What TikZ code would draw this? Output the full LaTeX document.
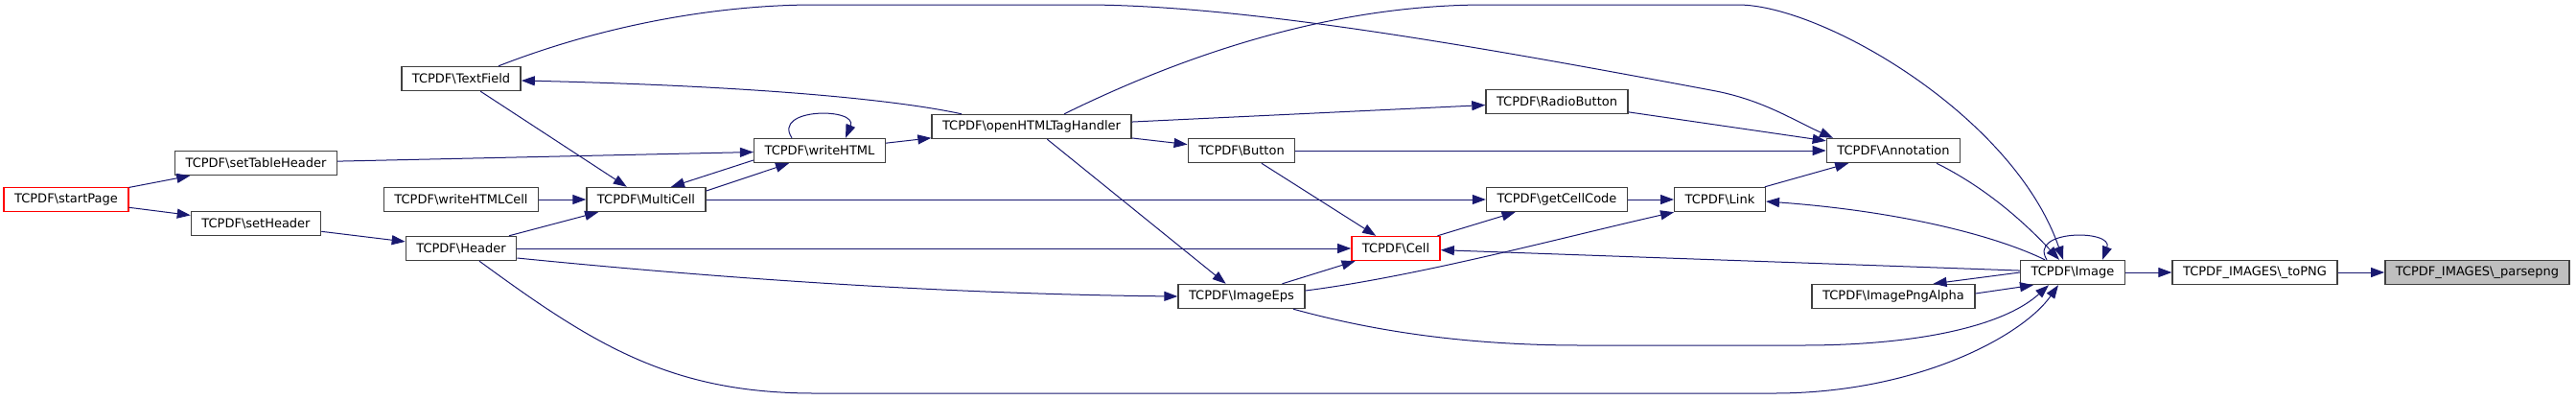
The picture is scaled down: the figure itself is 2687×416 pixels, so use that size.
\documentclass[tikz,border=0pt]{standalone}
\usepackage{fontspec}
\setmainfont{DejaVu Sans}
\usepackage{xcolor}
\usepackage{tikz}
\usetikzlibrary{arrows.meta}
\definecolor{doxyBlue}{RGB}{25,25,112}
\definecolor{doxyGray}{RGB}{64,64,64}
\definecolor{doxyFill}{RGB}{191,191,191}
\newcommand{\bs}{\textbackslash}

\begin{document}
\begin{tikzpicture}[x=1pt, y=-1pt,
funcblock/.style={rectangle, draw=doxyGray, fill=white, line width=1.4pt,
minimum height=25pt, inner xsep=11pt, inner ysep=2pt,
font=\fontsize{13pt}{15pt}\selectfont},
cutblock/.style={funcblock, draw=red},
selblock/.style={funcblock, fill=doxyFill},
arrow/.style={-{Triangle[length=14pt,width=10pt]}, line width=1pt, color=doxyBlue}]

\useasboundingbox (0,0) rectangle (2687,416);

\node[cutblock] (startPage)      at (69,208)   {TCPDF\bs startPage};
\node[funcblock] (setTableHeader) at (267,170)  {TCPDF\bs setTableHeader};
\node[funcblock] (setHeader)      at (267,233)  {TCPDF\bs setHeader};
\node[funcblock] (TextField)      at (481,82)   {TCPDF\bs TextField};
\node[funcblock] (writeHTMLCell)  at (481,208)  {TCPDF\bs writeHTMLCell};
\node[funcblock] (Header)         at (481,259)  {TCPDF\bs Header};
\node[funcblock] (MultiCell)      at (674,208)  {TCPDF\bs MultiCell};
\node[funcblock] (writeHTML)      at (855,157)  {TCPDF\bs writeHTML};
\node[funcblock] (openHTMLTagHandler) at (1076,132) {TCPDF\bs openHTMLTagHandler};
\node[funcblock] (Button)         at (1295,157) {TCPDF\bs Button};
\node[funcblock] (ImageEps)       at (1295,309) {TCPDF\bs ImageEps};
\node[funcblock] (RadioButton)    at (1624,106) {TCPDF\bs RadioButton};
\node[funcblock] (getCellCode)    at (1624,208) {TCPDF\bs getCellCode};
\node[cutblock] (Cell)            at (1456,259) {TCPDF\bs Cell};
\node[funcblock] (Link)           at (1794,208) {TCPDF\bs Link};
\node[funcblock] (Annotation)     at (1975,157) {TCPDF\bs Annotation};
\node[funcblock] (ImagePngAlpha)  at (1975,309) {TCPDF\bs ImagePngAlpha};
\node[funcblock] (Image)          at (2162,284) {TCPDF\bs Image};
\node[funcblock] (toPNG)          at (2352,284) {TCPDF\_IMAGES\bs\_toPNG};
\node[selblock] (parsepng)        at (2584,284) {TCPDF\_IMAGES\bs\_parsepng};

\draw[arrow] (startPage) -- (setTableHeader);
\draw[arrow] (startPage) -- (setHeader);
\draw[arrow] (setHeader) -- (Header);
\draw[arrow] (setTableHeader) -- (writeHTML);
\draw[arrow] (TextField) -- (MultiCell);
\draw[arrow] (writeHTMLCell) -- (MultiCell);
\draw[arrow] (Header) -- (MultiCell);
\draw[arrow] (Header) -- (Cell);
\draw[arrow] ([yshift=-10pt]Header.east) .. controls (700,285) and (950,306) .. (ImageEps.west);
\draw[arrow] ([xshift=19pt]Header.south) .. controls (620,360) and (700,410) .. (850,410)
    -- (1850,410) .. controls (2000,410) and (2110,350) .. ([xshift=-15pt]Image.south);
\draw[arrow] ([xshift=39pt]TextField.north) .. controls (640,22) and (760,5) .. (850,5)
    -- (1130,5) .. controls (1300,5) and (1550,50) .. (1790,95)
    .. controls (1840,105) and (1870,125) .. ([xshift=-63pt]Annotation.north);
\draw[arrow] ([xshift=-73pt]openHTMLTagHandler.north) .. controls (940,105) and (800,90) .. ([yshift=-2pt]TextField.east);
\draw[arrow] ([yshift=-10pt]writeHTML.west) -- ([xshift=26pt]MultiCell.north);
\draw[arrow] ([yshift=9pt]MultiCell.east) -- ([xshift=-32pt]writeHTML.south);
\draw[arrow] ([xshift=-29pt]writeHTML.north) .. controls (805,112) and (895,112) .. ([xshift=27pt]writeHTML.north);
\draw[arrow] (writeHTML) -- (openHTMLTagHandler);
\draw[arrow] (openHTMLTagHandler) -- (RadioButton);
\draw[arrow] (openHTMLTagHandler) -- (Button);
\draw[arrow] (openHTMLTagHandler) -- (ImageEps);
\draw[arrow] ([xshift=34pt]openHTMLTagHandler.north) .. controls (1250,50) and (1400,5) .. (1550,5)
    -- (1813,5) .. controls (1900,5) and (2100,120) .. ([xshift=-10pt]Image.north);
\draw[arrow] (Button) -- (Annotation);
\draw[arrow] (Button) -- (Cell);
\draw[arrow] (RadioButton) -- (Annotation);
\draw[arrow] (MultiCell) -- (getCellCode);
\draw[arrow] (Cell) -- (getCellCode);
\draw[arrow] (getCellCode) -- (Link);
\draw[arrow] (Link) -- (Annotation);
\draw[arrow] (ImageEps) -- (Cell);
\draw[arrow] ([yshift=6pt]ImageEps.east) .. controls (1480,288) and (1640,245) .. (Link.south west);
\draw[arrow] ([xshift=54pt]ImageEps.south) .. controls (1450,350) and (1550,360) .. (1650,360)
    -- (1880,360) .. controls (2000,360) and (2090,340) .. ([xshift=-25pt]Image.south);
\draw[arrow] ([xshift=45pt]Annotation.south) .. controls (2070,195) and (2110,230) .. ([xshift=-14pt]Image.north);
\draw[arrow] ([xshift=-29pt]Image.north) .. controls (2080,245) and (1980,220) .. ([yshift=-2pt]Link.east);
\draw[arrow] ([xshift=-27pt]Image.north) .. controls (2115,239) and (2205,239) .. ([xshift=31pt]Image.north);
\draw[arrow] (Image) -- (Cell);
\draw[arrow] (Image.west) -- ([xshift=-44pt]ImagePngAlpha.north east);
\draw[arrow] ([yshift=3pt]ImagePngAlpha.east) -- ([xshift=14pt]Image.south west);
\draw[arrow] (Image) -- (toPNG);
\draw[arrow] (toPNG) -- (parsepng);
\end{tikzpicture}
\end{document}
